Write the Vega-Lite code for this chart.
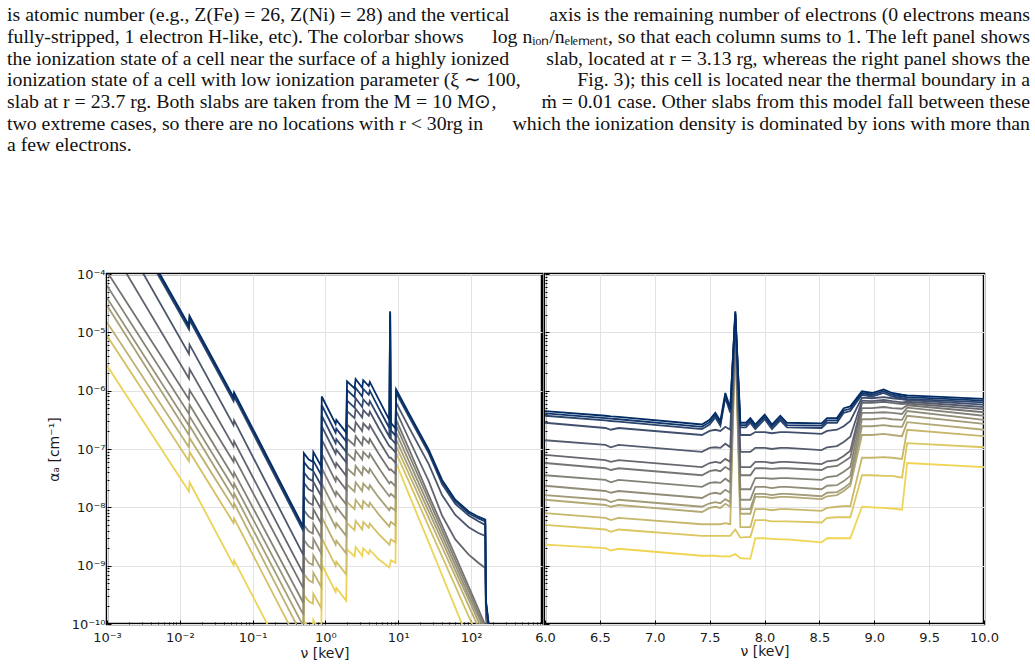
{
  "$schema": "https://vega.github.io/schema/vega-lite/v6.json",
  "background": "white",
  "padding": {"left": 5, "right": 5, "top": 4, "bottom": 5},
  "config": {
    "view": {"stroke": "#000", "strokeWidth": 2.5},
    "axis": {
      "domain": false,
      "labelFont": "DejaVu Sans", "labelFontSize": 13, "labelColor": "#1a1a1a",
      "titleFont": "DejaVu Sans", "titleFontSize": 14, "titleFontWeight": "normal", "titleColor": "#1a1a1a",
      "tickColor": "#000", "tickWidth": 1,
      "gridColor": "#e2e2e2", "gridWidth": 1,
      "labelFlush": false, "labelOverlap": false, "labelBound": false
    }
  },
  "spacing": 3,
  "bounds": "flush",
  "resolve": {"scale": {"color": "independent"}},
  "hconcat": [
    {
      "width": 435,
      "height": 350,
      "resolve": {"scale": {"x": "independent", "y": "independent"}},
      "layer": [
        {
          "data": {"values": [
            {"lx":-3.0,"s00":-2.40,"s01":-2.43,"s02":-2.47,"s03":-2.90,"s04":-3.43,"s05":-3.96,"s06":-4.20,"s07":-4.41,"s08":-4.54,"s09":-4.83,"s10":-5.06,"s11":-5.57},
            {"lx":-1.874,"s00":-4.88,"s01":-4.91,"s02":-4.95,"s03":-5.37,"s04":-5.79,"s05":-6.15,"s06":-6.40,"s07":-6.60,"s08":-6.76,"s09":-6.97,"s10":-7.21,"s11":-7.73},
            {"lx":-1.866,"s00":-4.72,"s01":-4.75,"s02":-4.79,"s03":-5.21,"s04":-5.63,"s05":-5.99,"s06":-6.24,"s07":-6.44,"s08":-6.60,"s09":-6.81,"s10":-7.05,"s11":-7.57},
            {"lx":-1.262,"s00":-6.11,"s01":-6.14,"s02":-6.18,"s03":-6.59,"s04":-6.95,"s05":-7.22,"s06":-7.48,"s07":-7.67,"s08":-7.84,"s09":-8.01,"s10":-8.27,"s11":-8.99},
            {"lx":-1.254,"s00":-6.03,"s01":-6.06,"s02":-6.10,"s03":-6.51,"s04":-6.87,"s05":-7.14,"s06":-7.40,"s07":-7.59,"s08":-7.76,"s09":-7.93,"s10":-8.19,"s11":-8.91},
            {"lx":-0.302,"s00":-8.34,"s01":-8.37,"s02":-8.41,"s03":-8.82,"s04":-9.14,"s05":-9.39,"s06":-9.64,"s07":-9.84,"s08":-10.04,"s09":-10.24,"s10":-10.49,"s11":-11.19},
            {"lx":-0.296,"s00":-7.07,"s01":-7.22,"s02":-7.40,"s03":-7.58,"s04":-7.81,"s05":-8.05,"s06":-8.30,"s07":-8.56,"s08":-8.84,"s09":-9.14,"s10":-9.50,"s11":-9.95},
            {"lx":-0.229,"s00":-7.18,"s01":-7.33,"s02":-7.51,"s03":-7.69,"s04":-7.92,"s05":-8.16,"s06":-8.41,"s07":-8.67,"s08":-8.95,"s09":-9.25,"s10":-9.61,"s11":-10.06},
            {"lx":-0.172,"s00":-7.22,"s01":-7.37,"s02":-7.55,"s03":-7.73,"s04":-7.96,"s05":-8.20,"s06":-8.45,"s07":-8.71,"s08":-8.99,"s09":-9.29,"s10":-9.65,"s11":-10.10},
            {"lx":-0.166,"s00":-7.05,"s01":-7.20,"s02":-7.38,"s03":-7.56,"s04":-7.79,"s05":-8.03,"s06":-8.28,"s07":-8.54,"s08":-8.82,"s09":-9.12,"s10":-9.48,"s11":-9.93},
            {"lx":-0.056,"s00":-7.30,"s01":-7.45,"s02":-7.63,"s03":-7.81,"s04":-8.04,"s05":-8.28,"s06":-8.53,"s07":-8.79,"s08":-9.07,"s09":-9.37,"s10":-9.73,"s11":-10.18},
            {"lx":-0.050,"s00":-6.10,"s01":-6.25,"s02":-6.43,"s03":-6.61,"s04":-6.84,"s05":-7.08,"s06":-7.33,"s07":-7.59,"s08":-7.87,"s09":-8.17,"s10":-8.53,"s11":-8.98},
            {"lx":0.140,"s00":-6.57,"s01":-6.72,"s02":-6.90,"s03":-7.08,"s04":-7.31,"s05":-7.55,"s06":-7.80,"s07":-8.06,"s08":-8.34,"s09":-8.64,"s10":-9.00,"s11":-9.45},
            {"lx":0.150,"s00":-6.50,"s01":-6.65,"s02":-6.83,"s03":-7.01,"s04":-7.24,"s05":-7.48,"s06":-7.73,"s07":-7.99,"s08":-8.27,"s09":-8.57,"s10":-8.93,"s11":-9.38},
            {"lx":0.285,"s00":-6.72,"s01":-6.87,"s02":-7.05,"s03":-7.23,"s04":-7.46,"s05":-7.70,"s06":-7.95,"s07":-8.21,"s08":-8.49,"s09":-8.79,"s10":-9.15,"s11":-9.60},
            {"lx":0.297,"s00":-5.84,"s01":-5.99,"s02":-6.17,"s03":-6.35,"s04":-6.58,"s05":-6.82,"s06":-7.07,"s07":-7.33,"s08":-7.61,"s09":-7.91,"s10":-8.27,"s11":-8.72},
            {"lx":0.400,"s00":-5.96,"s01":-6.11,"s02":-6.29,"s03":-6.47,"s04":-6.70,"s05":-6.94,"s06":-7.19,"s07":-7.45,"s08":-7.73,"s09":-8.03,"s10":-8.39,"s11":-8.84},
            {"lx":0.415,"s00":-5.80,"s01":-5.95,"s02":-6.13,"s03":-6.31,"s04":-6.54,"s05":-6.78,"s06":-7.03,"s07":-7.29,"s08":-7.57,"s09":-7.87,"s10":-8.23,"s11":-8.68},
            {"lx":0.505,"s00":-5.95,"s01":-6.10,"s02":-6.28,"s03":-6.46,"s04":-6.69,"s05":-6.93,"s06":-7.18,"s07":-7.44,"s08":-7.72,"s09":-8.02,"s10":-8.38,"s11":-8.83},
            {"lx":0.520,"s00":-5.82,"s01":-5.97,"s02":-6.15,"s03":-6.33,"s04":-6.56,"s05":-6.80,"s06":-7.05,"s07":-7.31,"s08":-7.59,"s09":-7.89,"s10":-8.25,"s11":-8.70},
            {"lx":0.595,"s00":-5.92,"s01":-6.07,"s02":-6.25,"s03":-6.43,"s04":-6.66,"s05":-6.90,"s06":-7.15,"s07":-7.41,"s08":-7.69,"s09":-7.99,"s10":-8.35,"s11":-8.80},
            {"lx":0.610,"s00":-5.85,"s01":-6.00,"s02":-6.18,"s03":-6.36,"s04":-6.59,"s05":-6.83,"s06":-7.08,"s07":-7.34,"s08":-7.62,"s09":-7.92,"s10":-8.28,"s11":-8.73},
            {"lx":0.732,"s00":-6.15,"s01":-6.30,"s02":-6.46,"s03":-6.64,"s04":-6.85,"s05":-7.08,"s06":-7.32,"s07":-7.57,"s08":-7.83,"s09":-8.12,"s10":-8.46,"s11":-8.89},
            {"lx":0.878,"s00":-6.50,"s01":-6.64,"s02":-6.79,"s03":-6.95,"s04":-7.15,"s05":-7.36,"s06":-7.59,"s07":-7.81,"s08":-8.05,"s09":-8.33,"s10":-8.64,"s11":-9.03},
            {"lx":0.889,"s00":-4.64,"s01":-4.66,"s02":-4.70,"s03":-6.96,"s04":-7.15,"s05":-7.35,"s06":-7.57,"s07":-7.79,"s08":-8.02,"s09":-8.28,"s10":-8.59,"s11":-8.97},
            {"lx":0.899,"s00":-6.55,"s01":-6.68,"s02":-6.82,"s03":-6.97,"s04":-7.15,"s05":-7.35,"s06":-7.56,"s07":-7.77,"s08":-8.00,"s09":-8.25,"s10":-8.55,"s11":-8.91},
            {"lx":0.963,"s00":-6.65,"s01":-6.77,"s02":-6.91,"s03":-7.06,"s04":-7.24,"s05":-7.43,"s06":-7.64,"s07":-7.84,"s08":-8.06,"s09":-8.31,"s10":-8.60,"s11":-8.95},
            {"lx":0.972,"s00":-5.98,"s01":-6.01,"s02":-6.04,"s03":-6.21,"s04":-6.35,"s05":-6.50,"s06":-6.60,"s07":-6.72,"s08":-6.84,"s09":-6.95,"s10":-7.07,"s11":-7.24},
            {"lx":1.144,"s00":-6.38,"s01":-6.41,"s02":-6.44,"s03":-6.62,"s04":-6.82,"s05":-6.99,"s06":-7.09,"s07":-7.20,"s08":-7.31,"s09":-7.42,"s10":-7.55,"s11":-7.77},
            {"lx":1.419,"s00":-7.01,"s01":-7.04,"s02":-7.07,"s03":-7.26,"s04":-7.55,"s05":-7.79,"s06":-7.87,"s07":-7.97,"s08":-8.07,"s09":-8.18,"s10":-8.33,"s11":-8.60},
            {"lx":1.602,"s00":-7.53,"s01":-7.56,"s02":-7.60,"s03":-7.79,"s04":-8.14,"s05":-8.31,"s06":-8.39,"s07":-8.48,"s08":-8.57,"s09":-8.68,"s10":-8.84,"s11":-9.16},
            {"lx":1.784,"s00":-7.87,"s01":-7.90,"s02":-7.94,"s03":-8.13,"s04":-8.55,"s05":-8.83,"s06":-8.91,"s07":-8.99,"s08":-9.08,"s09":-9.18,"s10":-9.35,"s11":-9.72},
            {"lx":1.968,"s00":-8.07,"s01":-8.10,"s02":-8.14,"s03":-8.34,"s04":-8.81,"s05":-9.36,"s06":-9.43,"s07":-9.51,"s08":-9.58,"s09":-9.69,"s10":-9.87,"s11":-10.28},
            {"lx":2.100,"s00":-8.16,"s01":-8.19,"s02":-8.24,"s03":-8.44,"s04":-8.95,"s05":-9.74,"s06":-9.81,"s07":-9.87,"s08":-9.95,"s09":-10.05,"s10":-10.24,"s11":-10.68},
            {"lx":2.196,"s00":-8.21,"s01":-8.24,"s02":-8.30,"s03":-8.49,"s04":-9.04,"s05":-10.02,"s06":-10.08,"s07":-10.14,"s08":-10.21,"s09":-10.32,"s10":-10.51,"s11":-10.97},
            {"lx":2.205,"s00":-9.60,"s01":-9.62,"s02":-9.65,"s03":-9.70,"s04":-9.90,"s05":-10.40,"s06":-10.40,"s07":-10.50,"s08":-10.50,"s09":-10.60,"s10":-10.60,"s11":-11.50},
            {"lx":2.270,"s00":-10.30,"s01":-10.30,"s02":-10.30,"s03":-10.40,"s04":-10.50,"s05":-11.0,"s06":-11.0,"s07":-11.0,"s08":-11.0,"s09":-11.0,"s10":-11.0,"s11":-12.0}
          ]},
          "transform": [
            {"fold": ["s11","s10","s09","s08","s07","s06","s05","s04","s03","s02","s01","s00"], "as": ["line","la"]}
          ],
          "mark": {"type": "line", "clip": true, "strokeWidth": 1.8},
          "encoding": {
            "x": {
              "field": "lx", "type": "quantitative", "title": "ν [keV]",
              "scale": {"domain": [-3, 2.975], "nice": false, "zero": false},
              "axis": {
                "values": [-3,-2.699,-2.523,-2.398,-2.301,-2.222,-2.155,-2.097,-2.046,-2,-1.699,-1.523,-1.398,-1.301,-1.222,-1.155,-1.097,-1.046,-1,-0.699,-0.523,-0.398,-0.301,-0.222,-0.155,-0.097,-0.046,0,0.301,0.477,0.602,0.699,0.778,0.845,0.903,0.954,1,1.301,1.477,1.602,1.699,1.778,1.845,1.903,1.954,2,2.301,2.477,2.602,2.699,2.778,2.845,2.903,2.954],
                "labelExpr": "abs(datum.value - round(datum.value)) < 0.001 ? ['10⁻³','10⁻²','10⁻¹','10⁰','10¹','10²'][round(datum.value) + 3] : ''",
                "tickSize": {"condition": {"test": "abs(datum.value - round(datum.value)) < 0.001", "value": -4}, "value": -2},
                "gridOpacity": {"condition": {"test": "abs(datum.value - round(datum.value)) < 0.001", "value": 1}, "value": 0},
                "labelPadding": 11,
                "titlePadding": 0
              }
            },
            "y": {
              "field": "la", "type": "quantitative", "title": "αₐ [cm⁻¹]",
              "scale": {"domain": [-10, -4], "nice": false, "zero": false},
              "axis": {
                "values": [-10,-9.699,-9.523,-9.398,-9.301,-9.222,-9.155,-9.097,-9.046,-9,-8.699,-8.523,-8.398,-8.301,-8.222,-8.155,-8.097,-8.046,-8,-7.699,-7.523,-7.398,-7.301,-7.222,-7.155,-7.097,-7.046,-7,-6.699,-6.523,-6.398,-6.301,-6.222,-6.155,-6.097,-6.046,-6,-5.699,-5.523,-5.398,-5.301,-5.222,-5.155,-5.097,-5.046,-5,-4.699,-4.523,-4.398,-4.301,-4.222,-4.155,-4.097,-4.046,-4],
                "labelExpr": "abs(datum.value - round(datum.value)) < 0.001 ? ['10⁻¹⁰','10⁻⁹','10⁻⁸','10⁻⁷','10⁻⁶','10⁻⁵','10⁻⁴'][round(datum.value) + 10] : ''",
                "tickSize": {"condition": {"test": "abs(datum.value - round(datum.value)) < 0.001", "value": -4}, "value": -2},
                "gridOpacity": {"condition": {"test": "abs(datum.value - round(datum.value)) < 0.001", "value": 1}, "value": 0},
                "labelPadding": 6,
                "titlePadding": 10
              }
            },
            "color": {"field": "line", "type": "ordinal", "scale": {"scheme": "cividis"}, "legend": null}
          }
        },
        {
          "data": {"name": "caption"},
          "transform": [{"filter": "datum.side == 0"}],
          "mark": {"type": "text", "align": "left", "baseline": "alphabetic", "font": "Liberation Serif", "fontSize": 19.8, "color": "#111"},
          "encoding": {
            "x": {"field": "side", "type": "quantitative", "scale": {"domain": [0, 1], "range": [-100, 923]}, "axis": null},
            "y": {"field": "ln", "type": "quantitative", "scale": {"domain": [1, 7], "range": [-252.7, -122.7]}, "axis": null},
            "text": {"field": "t"}
          }
        },
        {
          "data": {"name": "caption"},
          "transform": [{"filter": "datum.side == 1"}],
          "mark": {"type": "text", "align": "right", "baseline": "alphabetic", "font": "Liberation Serif", "fontSize": 19.8, "color": "#111"},
          "encoding": {
            "x": {"field": "side", "type": "quantitative", "scale": {"domain": [0, 1], "range": [-100, 923]}, "axis": null},
            "y": {"field": "ln", "type": "quantitative", "scale": {"domain": [1, 7], "range": [-252.7, -122.7]}, "axis": null},
            "text": {"field": "t"}
          }
        }
      ]
    },
    {
      "width": 439,
      "height": 350,
      "data": {"values": [
        {"nu":6.00,"r00":-6.35,"r01":-6.39,"r02":-6.43,"r03":-6.55,"r04":-6.85,"r05":-7.10,"r06":-7.24,"r07":-7.45,"r08":-7.63,"r09":-7.79,"r10":-7.87,"r11":-8.10,"r12":-8.30,"r13":-8.64},
        {"nu":6.55,"r00":-6.43,"r01":-6.47,"r02":-6.51,"r03":-6.64,"r04":-6.93,"r05":-7.19,"r06":-7.33,"r07":-7.53,"r08":-7.72,"r09":-7.87,"r10":-7.96,"r11":-8.18,"r12":-8.38,"r13":-8.70},
        {"nu":6.60,"r00":-6.44,"r01":-6.48,"r02":-6.52,"r03":-6.67,"r04":-6.97,"r05":-7.22,"r06":-7.36,"r07":-7.57,"r08":-7.75,"r09":-7.91,"r10":-7.99,"r11":-8.22,"r12":-8.42,"r13":-8.74},
        {"nu":6.67,"r00":-6.45,"r01":-6.49,"r02":-6.53,"r03":-6.64,"r04":-6.93,"r05":-7.19,"r06":-7.33,"r07":-7.53,"r08":-7.72,"r09":-7.87,"r10":-7.96,"r11":-8.18,"r12":-8.38,"r13":-8.71},
        {"nu":7.43,"r00":-6.58,"r01":-6.62,"r02":-6.66,"r03":-6.76,"r04":-7.05,"r05":-7.31,"r06":-7.45,"r07":-7.65,"r08":-7.84,"r09":-7.99,"r10":-8.08,"r11":-8.29,"r12":-8.49,"r13":-8.83},
        {"nu":7.50,"r00":-6.50,"r01":-6.54,"r02":-6.58,"r03":-6.69,"r04":-6.98,"r05":-7.24,"r06":-7.38,"r07":-7.58,"r08":-7.77,"r09":-7.93,"r10":-8.01,"r11":-8.29,"r12":-8.49,"r13":-8.83},
        {"nu":7.552,"r00":-6.38,"r01":-6.42,"r02":-6.46,"r03":-6.67,"r04":-6.97,"r05":-7.22,"r06":-7.36,"r07":-7.57,"r08":-7.75,"r09":-7.91,"r10":-7.99,"r11":-8.29,"r12":-8.49,"r13":-8.83},
        {"nu":7.598,"r00":-6.52,"r01":-6.56,"r02":-6.60,"r03":-6.69,"r04":-6.98,"r05":-7.24,"r06":-7.38,"r07":-7.58,"r08":-7.77,"r09":-7.93,"r10":-8.01,"r11":-8.29,"r12":-8.49,"r13":-8.84},
        {"nu":7.643,"r00":-6.04,"r01":-6.08,"r02":-6.12,"r03":-6.62,"r04":-6.91,"r05":-7.17,"r06":-7.31,"r07":-7.51,"r08":-7.70,"r09":-7.86,"r10":-7.94,"r11":-8.27,"r12":-8.49,"r13":-8.84},
        {"nu":7.688,"r00":-6.30,"r01":-6.34,"r02":-6.38,"r03":-6.67,"r04":-6.97,"r05":-7.22,"r06":-7.36,"r07":-7.57,"r08":-7.75,"r09":-7.91,"r10":-7.99,"r11":-8.29,"r12":-8.49,"r13":-8.84},
        {"nu":7.734,"r00":-4.64,"r01":-4.66,"r02":-4.68,"r03":-4.70,"r04":-4.75,"r05":-4.80,"r06":-4.85,"r07":-4.90,"r08":-4.95,"r09":-5.00,"r10":-5.05,"r11":-5.10,"r12":-8.38,"r13":-8.80},
        {"nu":7.78,"r00":-6.55,"r01":-6.59,"r02":-6.63,"r03":-6.76,"r04":-7.05,"r05":-7.31,"r06":-7.45,"r07":-7.69,"r08":-7.87,"r09":-8.03,"r10":-8.11,"r11":-8.34,"r12":-8.52,"r13":-8.87},
        {"nu":7.83,"r00":-6.55,"r01":-6.59,"r02":-6.63,"r03":-6.76,"r04":-7.05,"r05":-7.31,"r06":-7.45,"r07":-7.69,"r08":-7.87,"r09":-8.03,"r10":-8.11,"r11":-8.34,"r12":-8.51,"r13":-8.88},
        {"nu":7.871,"r00":-6.47,"r01":-6.51,"r02":-6.55,"r03":-6.76,"r04":-7.05,"r05":-7.31,"r06":-7.45,"r07":-7.69,"r08":-7.87,"r09":-8.03,"r10":-8.11,"r11":-8.34,"r12":-8.51,"r13":-8.88},
        {"nu":7.916,"r00":-6.58,"r01":-6.62,"r02":-6.66,"r03":-6.71,"r04":-6.98,"r05":-7.22,"r06":-7.33,"r07":-7.50,"r08":-7.65,"r09":-7.77,"r10":-7.82,"r11":-8.03,"r12":-8.22,"r13":-8.53},
        {"nu":8.002,"r00":-6.41,"r01":-6.45,"r02":-6.49,"r03":-6.71,"r04":-6.98,"r05":-7.22,"r06":-7.33,"r07":-7.50,"r08":-7.65,"r09":-7.77,"r10":-7.82,"r11":-8.03,"r12":-8.22,"r13":-8.53},
        {"nu":8.068,"r00":-6.58,"r01":-6.62,"r02":-6.66,"r03":-6.73,"r04":-7.00,"r05":-7.24,"r06":-7.34,"r07":-7.51,"r08":-7.67,"r09":-7.79,"r10":-7.84,"r11":-8.05,"r12":-8.24,"r13":-8.54},
        {"nu":8.144,"r00":-6.43,"r01":-6.47,"r02":-6.51,"r03":-6.71,"r04":-6.98,"r05":-7.22,"r06":-7.33,"r07":-7.50,"r08":-7.65,"r09":-7.77,"r10":-7.82,"r11":-8.03,"r12":-8.24,"r13":-8.55},
        {"nu":8.205,"r00":-6.55,"r01":-6.59,"r02":-6.63,"r03":-6.71,"r04":-6.98,"r05":-7.22,"r06":-7.33,"r07":-7.50,"r08":-7.65,"r09":-7.77,"r10":-7.82,"r11":-8.03,"r12":-8.24,"r13":-8.55},
        {"nu":8.52,"r00":-6.56,"r01":-6.60,"r02":-6.64,"r03":-6.74,"r04":-7.02,"r05":-7.26,"r06":-7.36,"r07":-7.53,"r08":-7.69,"r09":-7.81,"r10":-7.86,"r11":-8.06,"r12":-8.26,"r13":-8.60},
        {"nu":8.57,"r00":-6.47,"r01":-6.51,"r02":-6.55,"r03":-6.69,"r04":-6.97,"r05":-7.21,"r06":-7.31,"r07":-7.48,"r08":-7.63,"r09":-7.75,"r10":-7.81,"r11":-8.01,"r12":-8.18,"r13":-8.53},
        {"nu":8.66,"r00":-6.47,"r01":-6.51,"r02":-6.55,"r03":-6.67,"r04":-6.95,"r05":-7.19,"r06":-7.29,"r07":-7.46,"r08":-7.62,"r09":-7.74,"r10":-7.79,"r11":-7.99,"r12":-8.17,"r13":-8.53},
        {"nu":8.722,"r00":-6.30,"r01":-6.34,"r02":-6.38,"r03":-6.61,"r04":-6.88,"r05":-7.12,"r06":-7.22,"r07":-7.39,"r08":-7.55,"r09":-7.67,"r10":-7.72,"r11":-7.98,"r12":-8.17,"r13":-8.53},
        {"nu":8.782,"r00":-6.27,"r01":-6.31,"r02":-6.35,"r03":-6.52,"r04":-6.79,"r05":-7.03,"r06":-7.14,"r07":-7.31,"r08":-7.46,"r09":-7.58,"r10":-7.63,"r11":-7.98,"r12":-8.17,"r13":-8.53},
        {"nu":8.888,"r00":-6.01,"r01":-6.04,"r02":-6.07,"r03":-6.12,"r04":-6.17,"r05":-6.21,"r06":-6.30,"r07":-6.38,"r08":-6.49,"r09":-6.61,"r10":-6.76,"r11":-7.15,"r12":-7.45,"r13":-7.99},
        {"nu":8.979,"r00":-6.04,"r01":-6.07,"r02":-6.10,"r03":-6.13,"r04":-6.18,"r05":-6.21,"r06":-6.30,"r07":-6.38,"r08":-6.49,"r09":-6.61,"r10":-6.76,"r11":-7.15,"r12":-7.45,"r13":-8.00},
        {"nu":9.086,"r00":-5.98,"r01":-6.01,"r02":-6.04,"r03":-6.11,"r04":-6.16,"r05":-6.19,"r06":-6.28,"r07":-6.37,"r08":-6.47,"r09":-6.59,"r10":-6.74,"r11":-7.14,"r12":-7.46,"r13":-8.01},
        {"nu":9.162,"r00":-6.04,"r01":-6.07,"r02":-6.10,"r03":-6.13,"r04":-6.18,"r05":-6.21,"r06":-6.30,"r07":-6.38,"r08":-6.49,"r09":-6.61,"r10":-6.76,"r11":-7.15,"r12":-7.46,"r13":-8.02},
        {"nu":9.253,"r00":-6.07,"r01":-6.10,"r02":-6.13,"r03":-6.15,"r04":-6.20,"r05":-6.23,"r06":-6.31,"r07":-6.40,"r08":-6.50,"r09":-6.62,"r10":-6.78,"r11":-7.17,"r12":-7.49,"r13":-8.04},
        {"nu":9.30,"r00":-6.08,"r01":-6.11,"r02":-6.14,"r03":-6.16,"r04":-6.19,"r05":-6.22,"r06":-6.25,"r07":-6.29,"r08":-6.35,"r09":-6.43,"r10":-6.54,"r11":-6.67,"r12":-6.90,"r13":-7.24},
        {"nu":10.0,"r00":-6.14,"r01":-6.17,"r02":-6.20,"r03":-6.24,"r04":-6.28,"r05":-6.32,"r06":-6.37,"r07":-6.43,"r08":-6.50,"r09":-6.57,"r10":-6.67,"r11":-6.78,"r12":-6.97,"r13":-7.31}
      ]},
      "transform": [
        {"fold": ["r13","r12","r11","r10","r09","r08","r07","r06","r05","r04","r03","r02","r01","r00"], "as": ["line","la"]}
      ],
      "mark": {"type": "line", "clip": true, "strokeWidth": 1.8},
      "encoding": {
        "x": {
          "field": "nu", "type": "quantitative", "title": "ν [keV]",
          "scale": {"domain": [6, 10], "nice": false, "zero": false},
          "axis": {
            "values": [6, 6.5, 7, 7.5, 8, 8.5, 9, 9.5, 10],
            "format": ".1f",
            "tickSize": -4,
            "labelPadding": 11,
            "titlePadding": 0
          }
        },
        "y": {
          "field": "la", "type": "quantitative",
          "scale": {"domain": [-10, -4], "nice": false, "zero": false},
          "axis": {
            "title": null,
            "labels": false,
            "values": [-10,-9.699,-9.523,-9.398,-9.301,-9.222,-9.155,-9.097,-9.046,-9,-8.699,-8.523,-8.398,-8.301,-8.222,-8.155,-8.097,-8.046,-8,-7.699,-7.523,-7.398,-7.301,-7.222,-7.155,-7.097,-7.046,-7,-6.699,-6.523,-6.398,-6.301,-6.222,-6.155,-6.097,-6.046,-6,-5.699,-5.523,-5.398,-5.301,-5.222,-5.155,-5.097,-5.046,-5,-4.699,-4.523,-4.398,-4.301,-4.222,-4.155,-4.097,-4.046,-4],
            "tickSize": {"condition": {"test": "abs(datum.value - round(datum.value)) < 0.001", "value": -4}, "value": -2},
            "gridOpacity": {"condition": {"test": "abs(datum.value - round(datum.value)) < 0.001", "value": 1}, "value": 0}
          }
        },
        "color": {"field": "line", "type": "ordinal", "scale": {"scheme": "cividis"}, "legend": null}
      }
    }
  ],
  "datasets": {
    "caption": [
      {"ln": 1, "side": 0, "t": "is atomic number (e.g., Z(Fe) = 26, Z(Ni) = 28) and the vertical"},
      {"ln": 1, "side": 1, "t": "axis is the remaining number of electrons (0 electrons means"},
      {"ln": 2, "side": 0, "t": "fully-stripped, 1 electron H-like, etc). The colorbar shows"},
      {"ln": 2, "side": 1, "t": "log nᵢₒₙ/nₑₗₑₘₑₙₜ, so that each column sums to 1. The left panel shows"},
      {"ln": 3, "side": 0, "t": "the ionization state of a cell near the surface of a highly ionized"},
      {"ln": 3, "side": 1, "t": "slab, located at r = 3.13 rg, whereas the right panel shows the"},
      {"ln": 4, "side": 0, "t": "ionization state of a cell with low ionization parameter (ξ ∼ 100,"},
      {"ln": 4, "side": 1, "t": "Fig. 3); this cell is located near the thermal boundary in a"},
      {"ln": 5, "side": 0, "t": "slab at r = 23.7 rg. Both slabs are taken from the M = 10 M⊙,"},
      {"ln": 5, "side": 1, "t": "ṁ = 0.01 case. Other slabs from this model fall between these"},
      {"ln": 6, "side": 0, "t": "two extreme cases, so there are no locations with r < 30rg in"},
      {"ln": 6, "side": 1, "t": "which the ionization density is dominated by ions with more than"},
      {"ln": 7, "side": 0, "t": "a few electrons."}
    ]
  }
}
